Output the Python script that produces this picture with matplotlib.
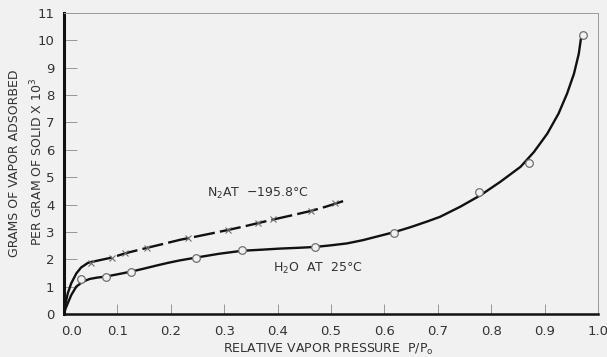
import matplotlib
matplotlib.use("Agg")
import matplotlib.pyplot as plt
from matplotlib.transforms import offset_copy

# Measured adsorption points
h2o_p = [0.032, 0.079, 0.126, 0.247, 0.333, 0.470, 0.618, 0.778, 0.870, 0.971]
h2o_w = [1.28, 1.34, 1.54, 2.04, 2.34, 2.45, 2.95, 4.46, 5.52, 10.20]

n2_p = [0.051, 0.089, 0.115, 0.156, 0.232, 0.307, 0.363, 0.391, 0.463, 0.508]
n2_w = [1.85, 2.03, 2.24, 2.42, 2.77, 3.07, 3.33, 3.47, 3.76, 4.04]

# Hand-faired isotherm curves
h2o_curve_p = [0.0, 0.003, 0.007, 0.0135, 0.023, 0.035, 0.048, 0.062, 0.079, 0.100,
               0.126, 0.150, 0.173, 0.195, 0.217, 0.250, 0.290, 0.333, 0.370, 0.404,
               0.440, 0.470, 0.500, 0.530, 0.560, 0.592, 0.620, 0.650, 0.680, 0.704,
               0.742, 0.780, 0.817, 0.855, 0.880, 0.905, 0.926, 0.942, 0.955, 0.964,
               0.968]
h2o_curve_w = [0.0, 0.20, 0.39, 0.69, 1.00, 1.18, 1.28, 1.33, 1.37, 1.45,
               1.55, 1.66, 1.77, 1.87, 1.96, 2.07, 2.20, 2.31, 2.35, 2.39,
               2.42, 2.45, 2.51, 2.58, 2.70, 2.86, 3.00, 3.18, 3.38, 3.55,
               3.92, 4.34, 4.83, 5.38, 5.92, 6.59, 7.32, 8.05, 8.78, 9.51,
               10.06]

n2_solid_p = [0.0, 0.003, 0.007, 0.0135, 0.023, 0.032, 0.045, 0.051]
n2_solid_w = [0.0, 0.40, 0.75, 1.12, 1.48, 1.70, 1.87, 1.90]

n2_dash_p = [0.051, 0.070, 0.089, 0.115, 0.156, 0.190, 0.217, 0.250, 0.280, 0.307,
             0.335, 0.363, 0.391, 0.430, 0.463, 0.490, 0.508, 0.528]
n2_dash_w = [1.90, 1.98, 2.06, 2.22, 2.42, 2.58, 2.71, 2.84, 2.96, 3.07,
             3.19, 3.32, 3.45, 3.62, 3.77, 3.92, 4.03, 4.16]

x_ticks = [0.0, 0.1, 0.2, 0.3, 0.4, 0.5, 0.6, 0.7, 0.8, 0.9, 1.0]
x_labels = ["0.0", "0.1", "0.2", "0.3", "0.4", "0.5", "0.6", "0.7", "0.8", "0.9", "1.0"]
y_ticks = list(range(0, 12))
y_labels = [str(v) for v in y_ticks]

bg = "#f1f1f1"
ink = "#111111"
txt = "#333333"

fig = plt.figure(figsize=(6.07, 3.57), dpi=100, facecolor=bg)
ax = fig.add_axes([64 / 607, 43 / 357, 534 / 607, 301 / 357], facecolor=bg)

ax.plot(h2o_curve_p, h2o_curve_w, color=ink, lw=1.7, solid_capstyle="round",
        solid_joinstyle="round", zorder=2)
ax.plot(n2_solid_p, n2_solid_w, color=ink, lw=1.7, solid_capstyle="round",
        solid_joinstyle="round", zorder=2)
ax.plot(n2_dash_p, n2_dash_w, color=ink, lw=1.7, dashes=(9, 2.2), zorder=2)

ax.plot(h2o_p, h2o_w, ls="none", marker="o", ms=5.5, mfc=bg, mec="#707070", mew=0.9, zorder=3)
ax.plot(n2_p, n2_w, ls="none", marker="x", ms=4, mec="#707070", mew=0.8, zorder=3)

ax.set_xlim(0, 1.0)
ax.set_ylim(0, 11)

ax.set_xticks(x_ticks)
ax.set_xticklabels([""] + x_labels[1:])
ax.set_yticks(y_ticks)
ax.set_yticklabels(y_labels)
ax.tick_params(axis="x", direction="in", length=7, width=0.6, color="#888888",
               labelsize=9.5, labelcolor=txt, pad=8)
ax.tick_params(axis="y", direction="in", length=9, width=0.6, color="#888888",
               labelsize=9.5, labelcolor=txt, pad=7)

# first x label sits a little right of the corner
ax.text(x_ticks[0], 0, x_labels[0], fontsize=9.5, color=txt, ha="center", va="top",
        transform=offset_copy(ax.transData, fig=fig, x=8, y=-11, units="dots"),
        clip_on=False)

for side in ("top", "right"):
    ax.spines[side].set_color("#9a9a9a")
    ax.spines[side].set_linewidth(0.7)
ax.spines["left"].set_color(ink)
ax.spines["left"].set_linewidth(2.2)
ax.spines["bottom"].set_color(ink)
ax.spines["bottom"].set_linewidth(1.8)

ax.text(0.268, 4.42, r"N$_2$AT  $-$195.8°C", fontsize=9, color=txt, ha="left", va="center")
ax.text(0.392, 1.68, r"H$_2$O  AT  25°C", fontsize=9, color=txt, ha="left", va="center")

fig.text(328 / 607, 1 - 349 / 357, r"RELATIVE VAPOR PRESSURE  P/P$_\mathrm{o}$",
         fontsize=9, color=txt, ha="center", va="center")
fig.text(15 / 607, 1 - 163 / 357, "GRAMS OF VAPOR ADSORBED", rotation=90,
         fontsize=9, color=txt, ha="center", va="center")
fig.text(37 / 607, 1 - 162 / 357, r"PER GRAM OF SOLID X 10$^3$", rotation=90,
         fontsize=9, color=txt, ha="center", va="center")

fig.savefig("out.png", dpi=100, facecolor=bg)
